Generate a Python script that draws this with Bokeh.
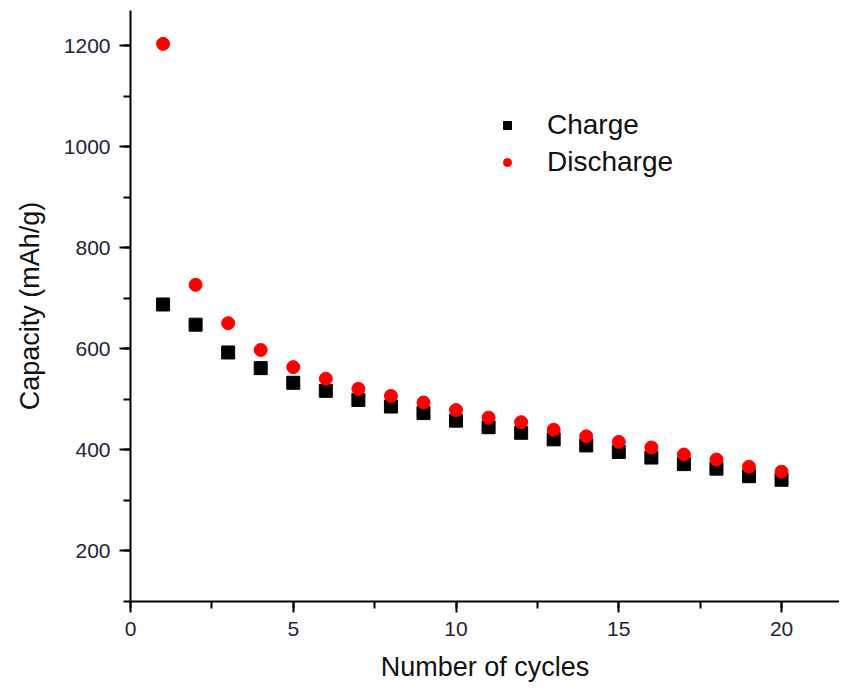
from bokeh.plotting import figure
from bokeh.models import Range1d, SingleIntervalTicker, Legend, LegendItem
from bokeh.embed import file_html
from bokeh.resources import INLINE

cycles = list(range(1, 21))
charge = [688, 648, 593, 562, 533, 517, 499, 486, 473, 458, 445, 434, 421, 409, 396, 385, 372, 363, 348, 341]
discharge = [1204, 727, 651, 598, 564, 541, 521, 507, 494, 479, 464, 455, 440, 427, 416, 405, 391, 381, 367, 357]

FONT = "Liberation Sans"

p = figure(width=839, height=683, frame_width=709, frame_height=591,
           output_backend="svg", toolbar_location=None,
           x_range=Range1d(0, 21.78), y_range=Range1d(100, 1270),
           min_border_left=130, min_border_right=0, min_border_top=10, min_border_bottom=82)
p.outline_line_color = None
p.xgrid.visible = False
p.ygrid.visible = False

r1 = p.scatter(cycles, charge, marker="square", size=13, color="black")
r2 = p.scatter(cycles, discharge, marker="circle", size=13, color="red")

p.xaxis.ticker = SingleIntervalTicker(interval=5, num_minor_ticks=2)
p.yaxis.ticker = SingleIntervalTicker(interval=200, num_minor_ticks=2)

for ax in (p.xaxis[0], p.yaxis[0]):
    ax.axis_line_width = 2
    ax.major_tick_line_width = 2
    ax.minor_tick_line_width = 2
    ax.major_tick_out = 11
    ax.major_tick_in = 0
    ax.minor_tick_out = 7
    ax.minor_tick_in = 0
    ax.major_label_text_font = FONT
    ax.major_label_text_font_size = "21px"
    ax.major_label_text_color = "#22223a"
    ax.major_label_standoff = 9
    ax.axis_label_text_font = FONT
    ax.axis_label_text_font_size = "27px"
    ax.axis_label_text_font_style = "normal"
    ax.axis_label_text_color = "#111111"

p.xaxis.axis_label = "Number of cycles"
p.yaxis.axis_label = "Capacity (mAh/g)"
p.xaxis.axis_label_standoff = 13
p.yaxis.axis_label_standoff = 16

legend = Legend(items=[LegendItem(label="Charge", renderers=[r1]),
                       LegendItem(label="Discharge", renderers=[r2])],
                location=(367, 423), orientation="vertical")
legend.border_line_color = None
legend.background_fill_alpha = 0
legend.padding = 0
legend.margin = 0
legend.spacing = 5
legend.glyph_width = 20
legend.glyph_height = 30
legend.label_height = 30
legend.label_standoff = 30
legend.label_text_font = FONT
legend.label_text_font_size = "28px"
legend.label_text_color = "#111111"
p.add_layout(legend, "center")

open("out.html", "w").write(file_html(p, INLINE))
